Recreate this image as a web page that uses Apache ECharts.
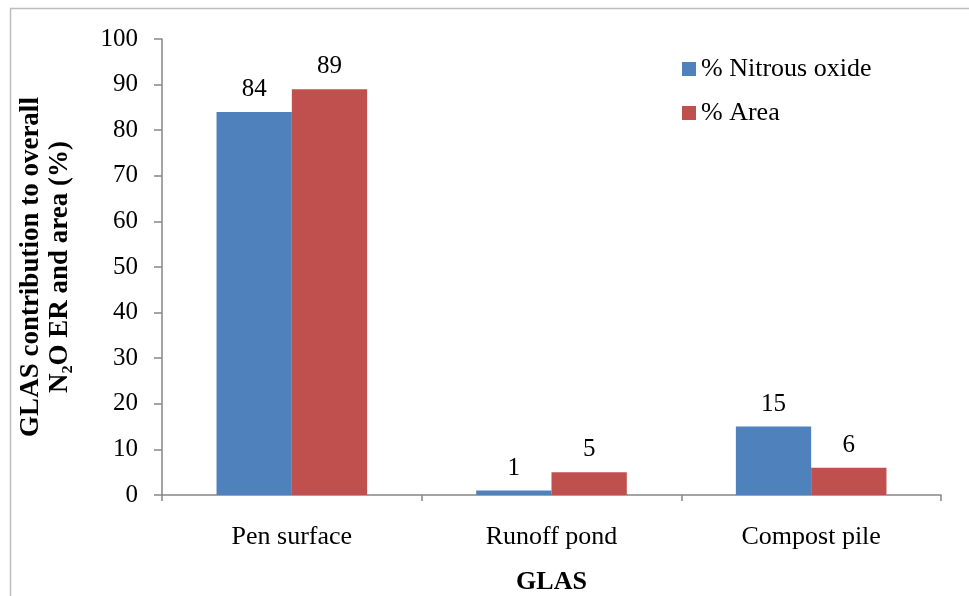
<!DOCTYPE html>
<html>
<head>
<meta charset="utf-8">
<script src="https://cdn.jsdelivr.net/npm/echarts@6/dist/echarts.min.js"></script>
<style>
html,body{margin:0;padding:0;background:#fff;}
#chart{width:969px;height:596px;}
</style>
</head>
<body>
<div id="chart"></div>
<script>
var categories = ['Pen surface', 'Runoff pond', 'Compost pile'];
var nitrousOxide = [84, 1, 15];
var area = [89, 5, 6];
var yTicks = [0, 10, 20, 30, 40, 50, 60, 70, 80, 90, 100];

var FONT = '"Liberation Serif", "Times New Roman", serif';
var chart = echarts.init(document.getElementById('chart'));
chart.setOption({
  backgroundColor: '#fff',
  animation: false,
  textStyle: { fontFamily: FONT, color: '#000' },
  graphic: [{
    type: 'rect',
    shape: { x: 10.5, y: 8.5, width: 1200, height: 1200 },
    style: { fill: 'none', stroke: '#bdbdbd', lineWidth: 1.5 },
    silent: true, z: -1
  }],
  grid: { left: 162, right: 28, top: 39, bottom: 101, containLabel: false, outerBoundsMode: 'none' },
  legend: {
    orient: 'vertical',
    left: 677,
    top: 51,
    itemWidth: 14,
    itemHeight: 14,
    itemGap: 18,
    icon: 'rect',
    textStyle: { fontFamily: FONT, fontSize: 26, color: '#000' },
    data: ['% Nitrous oxide', '% Area']
  },
  xAxis: {
    type: 'category',
    data: categories,
    name: 'GLAS',
    nameLocation: 'middle',
    nameGap: 74,
    nameTextStyle: { fontFamily: FONT, fontSize: 26, fontWeight: 'bold', color: '#000' },
    axisLine: { lineStyle: { color: '#868686', width: 1.5 } },
    axisTick: { show: true, length: 6, lineStyle: { color: '#868686', width: 1.5 } },
    axisLabel: { fontFamily: FONT, fontSize: 26, color: '#000', margin: 29 }
  },
  yAxis: {
    type: 'value',
    min: 0,
    max: 100,
    interval: 10,
    name: 'GLAS contribution to overall\nN\u2082O ER and area (%)',
    nameLocation: 'middle',
    nameGap: 87,
    nameRotate: 90,
    nameTextStyle: { fontFamily: FONT, fontSize: 27, fontWeight: 'bold', color: '#000', lineHeight: 29 },
    splitLine: { show: false },
    axisLine: { show: true, lineStyle: { color: '#868686', width: 1.5 } },
    axisTick: { show: true, length: 8, lineStyle: { color: '#868686', width: 1.5 } },
    axisLabel: { fontFamily: FONT, fontSize: 25, color: '#000', margin: 24,
      formatter: function (v) { return yTicks.indexOf(v) >= 0 ? String(v) : ''; } }
  },
  series: [{
    name: '% Nitrous oxide',
    type: 'bar',
    data: nitrousOxide,
    barGap: '0%',
    barCategoryGap: '42%',
    itemStyle: { color: '#4F81BD' },
    label: { show: true, position: 'top', distance: 10, fontFamily: FONT, fontSize: 25, color: '#000' }
  }, {
    name: '% Area',
    type: 'bar',
    data: area,
    barGap: '0%',
    barCategoryGap: '42%',
    itemStyle: { color: '#C0504D' },
    label: { show: true, position: 'top', distance: 10, fontFamily: FONT, fontSize: 25, color: '#000' }
  }]
});
</script>
</body>
</html>
